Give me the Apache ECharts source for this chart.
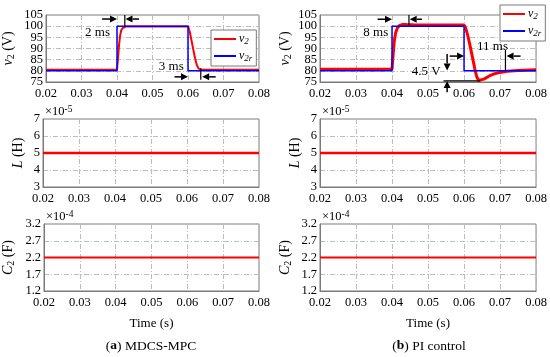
<!DOCTYPE html>
<html><head><meta charset="utf-8">
<script src="https://cdn.jsdelivr.net/npm/echarts@6/dist/echarts.min.js"></script>
<style>html,body{margin:0;padding:0;background:#fff}#c{width:550px;height:357px}</style>
</head><body><div id="c"></div>
<script>
// ---- data ----
const xTickLabels = ['0.02','0.03','0.04','0.05','0.06','0.07','0.08'];
const t_ref = [0.02, 0.04, 0.04, 0.06, 0.06, 0.08];
const v2r   = [80, 80, 100, 100, 80, 80];
// (a) MDCS-MPC measured v2
const t_a  = [0.02, 0.0400, 0.0403, 0.0406, 0.0409, 0.0412, 0.0416, 0.0420, 0.0425, 0.0430, 0.0600, 0.0605, 0.0610, 0.0615, 0.0620, 0.0625, 0.0630, 0.0635, 0.0640, 0.0650, 0.0800];
const v2_a = [80.5, 80.5, 86, 92, 96, 98.2, 99.2, 99.6, 99.8, 99.9, 99.9, 97.5, 93.5, 89.5, 85.5, 82.5, 81, 80.6, 80.5, 80.5, 80.5];
// (b) PI control measured v2
const t_b  = [0.02, 0.0400, 0.0403, 0.0406, 0.0410, 0.0415, 0.0420, 0.0425, 0.0430, 0.0440, 0.0460, 0.0500, 0.0600, 0.0604, 0.0610, 0.0615, 0.0620, 0.0625, 0.0630, 0.0635, 0.0640, 0.0645, 0.0655, 0.0670, 0.0685, 0.0700, 0.0720, 0.0750, 0.0800];
const v2_b = [80.7, 80.7, 87, 93, 97, 99.2, 100.2, 100.7, 100.8, 100.7, 100.6, 100.5, 100.5, 99.5, 96, 92.5, 88.7, 84.8, 80.8, 77.5, 75.7, 75.6, 76.3, 77.7, 78.7, 79.3, 79.8, 80.2, 80.5];
// parameters (L in 1e-5 H, C2 in 1e-4 F)
const t_const = [0.02, 0.08];
const L_a  = [5, 5];
const L_b  = [5, 5];
const C2_a = [2.2, 2.2];
const C2_b = [2.2, 2.2];
const v2TickLabels = [75, 80, 85, 90, 95, 100, 105];
const LTickLabels  = [3, 4, 5, 6, 7];
const CTickLabels  = [1.2, 1.7, 2.2, 2.7, 3.2];

const zip = (a, b) => a.map((x, i) => [x, b[i]]);
const FONT = '"Liberation Serif", "DejaVu Serif", serif';
const RED = '#ff0000', BLUE = '#0000ff';

const grids = [];
const gl = [43, 320], gw = [216, 218];
const gt = [15, 119, 224], gh = [67, 68, 67];
for (let c = 0; c < 2; c++) for (let r = 0; r < 3; r++) {
  grids.push({left: gl[c], width: gw[c], top: gt[r], height: gh[r], show: true, borderColor: '#7a7a7a', borderWidth: 1, backgroundColor: '#fff'});
}
const splitStyle = {show: true, lineStyle: {color: '#bdbdbd', width: 1, type: [5, 2, 1, 2]}};
const xAxes = grids.map((g, i) => ({
  type: 'value', gridIndex: i, min: 0.02, max: 0.08, interval: 0.01,
  axisLine: {show: true, lineStyle: {color: '#7a7a7a'}}, axisTick: {show: false},
  splitLine: splitStyle,
  axisLabel: {fontFamily: FONT, fontSize: 12.5, color: '#000', margin: 5, hideOverlap: false,
    showMinLabel: true, showMaxLabel: true,
    formatter: v => xTickLabels[Math.round((v - 0.02) / 0.01)] ?? ''},
  name: (i % 3 === 2) ? 'Time (s)' : '', nameLocation: 'middle', nameGap: 26,
  nameTextStyle: {fontFamily: FONT, fontSize: 13, color: '#000'}
}));
const rich = {
  i: {fontFamily: FONT, fontStyle: 'italic', fontSize: 14, color: '#000'},
  n: {fontFamily: FONT, fontSize: 14, color: '#000'},
  s: {fontFamily: FONT, fontSize: 10, color: '#000', padding: [6, 0, 0, 0]}
};
const yDefs = [
  {tk: v2TickLabels, name: '{i|v}{s|2}{n| (V)}', gap: [30, 27], dec: 0},
  {tk: LTickLabels,  name: '{i|L}{n| (H)}', gap: [18, 18], dec: 0},
  {tk: CTickLabels,  name: '{i|C}{s|2}{n| (F)}', gap: [28, 27], dec: 1}
];
const yAxes = grids.map((g, i) => {
  const d = yDefs[i % 3], c = Math.floor(i / 3);
  const tk = d.tk;
  return {
    type: 'value', gridIndex: i, min: tk[0], max: tk[tk.length - 1], interval: tk[1] - tk[0],
    axisLine: {show: true, lineStyle: {color: '#7a7a7a'}},
    axisTick: {show: false, customValues: tk},
    splitLine: splitStyle,
    // labels are drawn below as text placed through this axis' scale
    axisLabel: {show: false, customValues: tk},
    name: d.name, nameLocation: 'middle', nameGap: d.gap[c],
    nameTextStyle: {rich: rich}
  };
});
const line = (name, i, data, color, w) => ({
  name, type: 'line', xAxisIndex: i, yAxisIndex: i, data, showSymbol: false,
  lineStyle: {color, width: w}, itemStyle: {color}, animation: false, silent: true
});
const series = [
  line('v2a', 0, zip(t_a, v2_a), RED, 2),
  line('v2ra', 0, zip(t_ref, v2r), BLUE, 1.5),
  line('La', 1, zip(t_const, L_a), RED, 2.5),
  line('Ca', 2, zip(t_const, C2_a), RED, 2),
  line('v2b', 3, zip(t_b, v2_b), RED, 3),
  line('v2rb', 3, zip(t_ref, v2r), BLUE, 1.5),
  line('Lb', 4, zip(t_const, L_b), RED, 2.5),
  line('Cb', 5, zip(t_const, C2_b), RED, 2)
];
const legRich = {
  i: {fontFamily: FONT, fontStyle: 'italic', fontSize: 12, color: '#000'},
  s: {fontFamily: FONT, fontStyle: 'italic', fontSize: 9, color: '#000', padding: [5, 0, 0, 0]}
};
const legFmt = n => n.startsWith('v2r') ? '{i|v}{s|2r}' : '{i|v}{s|2}';
const mkLegend = (data, left, top) => ({
  data, orient: 'vertical', left, top, icon: 'rect', itemWidth: 22, itemHeight: 2,
  itemGap: 4, padding: [3, 4, 3, 3], borderColor: '#7a7a7a', borderWidth: 1, backgroundColor: '#fff',
  formatter: legFmt, textStyle: {rich: legRich, padding: [0, 0, 0, -2]}, selectedMode: false
});

const chart = echarts.init(document.getElementById('c'), null, {renderer: 'canvas'});
chart.setOption({
  animation: false,
  grid: grids, xAxis: xAxes, yAxis: yAxes, series,
  legend: [mkLegend(['v2a', 'v2ra'], 211, 30), mkLegend(['v2b', 'v2rb'], 500, 5)]
});

// ---- annotations placed through data coordinates ----
const px = (g, p) => chart.convertToPixel({gridIndex: g}, p);
const gfx = [];
function seg(g, a, b) {
  const p = px(g, a), q = px(g, b);
  gfx.push({type: 'line', shape: {x1: p[0], y1: p[1], x2: q[0], y2: q[1]}, style: {stroke: '#000', lineWidth: 1.2}, z: 100});
}
function arrow(g, from, to) {
  const p = px(g, from), q = px(g, to);
  const dx = q[0] - p[0], dy = q[1] - p[1], L = Math.hypot(dx, dy);
  const ux = dx / L, uy = dy / L, hl = 7, hw = 3.5;
  const bx = q[0] - ux * hl, by = q[1] - uy * hl;
  gfx.push({type: 'line', shape: {x1: p[0], y1: p[1], x2: bx, y2: by}, style: {stroke: '#000', lineWidth: 1.5}, z: 100});
  gfx.push({type: 'polygon', shape: {points: [[q[0], q[1]], [bx - uy * hw, by + ux * hw], [bx + uy * hw, by - ux * hw]]}, style: {fill: '#000'}, z: 100});
}
function label(g, p, text, align, size) {
  const q = px(g, p);
  gfx.push({type: 'text', x: q[0], y: q[1], z: 100,
    style: {text, font: (size || 13) + 'px ' + FONT, fill: '#000', align: align || 'center', verticalAlign: 'middle'}});
}
function ltext(x, y, text, size, align) {
  gfx.push({type: 'text', x, y, z: 100, style: {text, rich: {
    n: {fontFamily: FONT, fontSize: size, color: '#000'},
    b: {fontFamily: FONT, fontSize: size, color: '#000', fontWeight: 'bold'},
    p: {fontFamily: FONT, fontSize: size - 3, color: '#000', padding: [0, 0, 6, 0]}
  }, align: align || 'center', verticalAlign: 'middle'}});
}
// y tick labels
yAxes.forEach((ax, i) => {
  const d = yDefs[i % 3];
  d.tk.forEach(v => {
    const q = px(i, [0.02, v]);
    gfx.push({type: 'text', x: q[0] - 3, y: q[1], z: 50,
      style: {text: v.toFixed(d.dec), font: '12.5px ' + FONT, fill: '#000', align: 'right', verticalAlign: 'middle'}});
  });
});
// (a) top panel
arrow(0, [0.0358, 103.2], [0.0400, 103.2]);
arrow(0, [0.0462, 103.2], [0.0424, 103.2]);
seg(0, [0.0422, 105], [0.0422, 99.8]);
label(0, [0.0345, 97.3], '2 ms');
label(0, [0.0553, 81.9], '3 ms');
arrow(0, [0.0562, 77.3], [0.0600, 77.3]);
arrow(0, [0.0678, 77.3], [0.0640, 77.3]);
seg(0, [0.0636, 81], [0.0636, 76]);
// (b) top panel
arrow(3, [0.0360, 103.1], [0.0400, 103.1]);
arrow(3, [0.0483, 103.1], [0.0449, 103.1]);
seg(3, [0.0447, 105], [0.0447, 100.5]);
label(3, [0.0355, 97.3], '8 ms');
label(3, [0.0495, 79.6], '4.5 V');
arrow(3, [0.0553, 87.5], [0.0553, 80.2]);
seg(3, [0.0543, 75.5], [0.0645, 75.5]);
arrow(3, [0.0553, 70.4], [0.0553, 75.5]);
label(3, [0.0679, 90.7], '11 ms');
arrow(3, [0.0560, 86.6], [0.0600, 86.6]);
arrow(3, [0.0757, 86.6], [0.0718, 86.6]);
seg(3, [0.0715, 89.3], [0.0715, 80]);
// exponents
[[1, '-5'], [2, '-4'], [4, '-5'], [5, '-4']].forEach(([g, e]) => {
  const p = px(g, [0.02, g % 3 === 1 ? 7 : 3.2]);
  ltext(p[0] + 2, p[1] - 7, '{n|×10}{p|' + e + '}', 12.5, 'left');
});
// captions
ltext(151, 346, '{n|(}{b|a}{n|) MDCS-MPC}', 13.5);
ltext(429, 346, '{n|(}{b|b}{n|) PI control}', 13.5);
chart.setOption({graphic: gfx});
</script></body></html>
